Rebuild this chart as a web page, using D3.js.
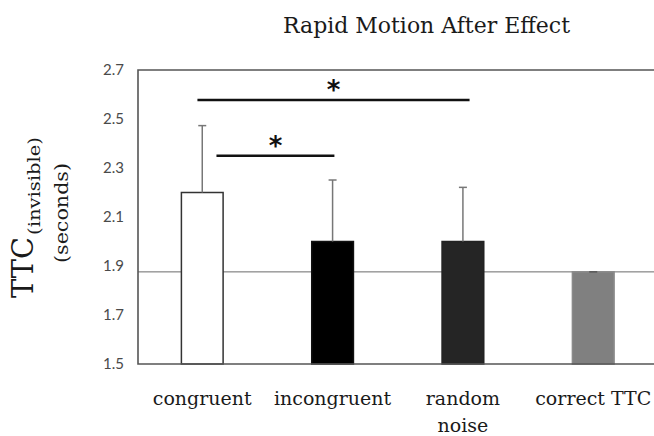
<!DOCTYPE html>
<html><head><meta charset="utf-8">
<script src="https://cdn.jsdelivr.net/npm/d3@7"></script>
<style>
html,body{margin:0;padding:0;background:#fff;}
svg{display:block;}
</style></head>
<body>
<script>
const categories = ["congruent", "incongruent", "random noise", "correct TTC"];
const labelLines = [["congruent"], ["incongruent"], ["random", "noise"], ["correct TTC"]];
const means = [2.20, 2.00, 2.00, 1.876];
const errors = [0.273, 0.251, 0.221, 0];
const fills = ["#ffffff", "#000000", "#252525", "#808080"];
const strokes = ["#333333", "#111111", "#222222", "#8a8a8a"];
const yTicks = [1.5, 1.7, 1.9, 2.1, 2.3, 2.5, 2.7];
const referenceValue = 1.876;
const sigPairs = [
  {from: "congruent", to: "random noise", y: 2.578, label: "*"},
  {from: "congruent", to: "incongruent", y: 2.35, label: "*"}
];
const sigOffsets = [[-0.037, 0.051], [0.109, 0.014]];

const W = 654, H = 436;
const svg = d3.select("body").append("svg").attr("width", W).attr("height", H);

const y = d3.scaleLinear().domain([1.5, 2.7]).range([364, 70]);
const x = d3.scaleBand().domain(categories).range([138, 657.5]).paddingInner(0.68).paddingOuter(0.333);
const cx = c => x(c) + x.bandwidth() / 2;

// reference line
svg.append("line")
  .attr("x1", 138).attr("x2", W)
  .attr("y1", y(referenceValue)).attr("y2", y(referenceValue))
  .attr("stroke", "#6a6a6a").attr("stroke-width", 1);

// bars
svg.selectAll("rect.bar").data(categories).enter().append("rect")
  .attr("class", "bar")
  .attr("x", d => x(d))
  .attr("width", x.bandwidth())
  .attr("y", (d, i) => y(means[i]))
  .attr("height", (d, i) => y(1.5) - y(means[i]))
  .attr("fill", (d, i) => fills[i])
  .attr("stroke", (d, i) => strokes[i])
  .attr("stroke-width", 1.5);

// error bars
const eb = svg.append("g").attr("stroke", "#777").attr("stroke-width", 1.5);
categories.forEach((c, i) => {
  const top = y(means[i] + errors[i]);
  eb.append("line").attr("x1", cx(c)).attr("x2", cx(c)).attr("y1", y(means[i])).attr("y2", top);
  eb.append("line").attr("x1", cx(c) - 4).attr("x2", cx(c) + 4).attr("y1", top).attr("y2", top)
    .attr("stroke", errors[i] === 0 ? "#555" : "#777");
});

// frame (top, left, bottom)
const frame = svg.append("g").attr("stroke", "#555").attr("stroke-width", 1.6).attr("fill", "none");
frame.append("path").attr("d", `M${W},${y(2.7)}H138V${y(1.5)}H${W}`);

// y axis tick labels
const yAxis = d3.axisLeft(y).tickValues(yTicks).tickSize(0).tickPadding(14).tickFormat(d3.format(".1f"));
const ga = svg.append("g").attr("transform", "translate(138,0)").call(yAxis);
ga.select(".domain").remove();
ga.selectAll("text").attr("font-family", "Lato, 'Open Sans', sans-serif").attr("font-size", 15).attr("fill", "#4a4a4a");

// x labels
const xl = svg.append("g");
categories.forEach((c, i) => {
  labelLines[i].forEach((t, j) => {
    xl.append("text").attr("x", cx(c)).attr("y", 405 + j * 27)
      .attr("text-anchor", "middle")
      .attr("font-family", "'DejaVu Serif', serif").attr("font-size", 19)
      .attr("fill", "#1a1a1a").text(t);
  });
});

// significance brackets
sigPairs.forEach((s, k) => {
  const x1 = cx(s.from) + sigOffsets[k][0] * x.step();
  const x2 = cx(s.to) + sigOffsets[k][1] * x.step();
  svg.append("line").attr("x1", x1).attr("x2", x2).attr("y1", y(s.y)).attr("y2", y(s.y))
    .attr("stroke", "#111").attr("stroke-width", 2.5);
  svg.append("text").attr("x", (x1 + x2) / 2).attr("y", y(s.y) - 1)
    .attr("text-anchor", "middle").attr("font-family", "'DejaVu Sans', sans-serif")
    .attr("font-size", 26).attr("font-weight", "bold").attr("fill", "#111").text(s.label);
});

// title
svg.append("text").attr("x", 426.5).attr("y", 33).attr("text-anchor", "middle")
  .attr("font-family", "'DejaVu Serif', serif").attr("font-size", 22)
  .attr("textLength", 287).attr("lengthAdjust", "spacingAndGlyphs")
  .attr("fill", "#1a1a1a").text("Rapid Motion After Effect");

// y title
const yt = svg.append("g").attr("fill", "#1a1a1a").attr("font-family", "'DejaVu Serif', serif");
yt.append("text").attr("transform", "translate(33,298) rotate(-90)")
  .attr("font-size", 30).attr("textLength", 61).attr("lengthAdjust", "spacingAndGlyphs").text("TTC");
yt.append("text").attr("transform", "translate(40,235) rotate(-90)")
  .attr("font-size", 17).attr("textLength", 98).attr("lengthAdjust", "spacingAndGlyphs").text("(invisible)");
yt.append("text").attr("transform", "translate(68,213) rotate(-90)")
  .attr("text-anchor", "middle").attr("font-size", 18)
  .attr("textLength", 100).attr("lengthAdjust", "spacingAndGlyphs").text("(seconds)");
</script>
</body></html>
